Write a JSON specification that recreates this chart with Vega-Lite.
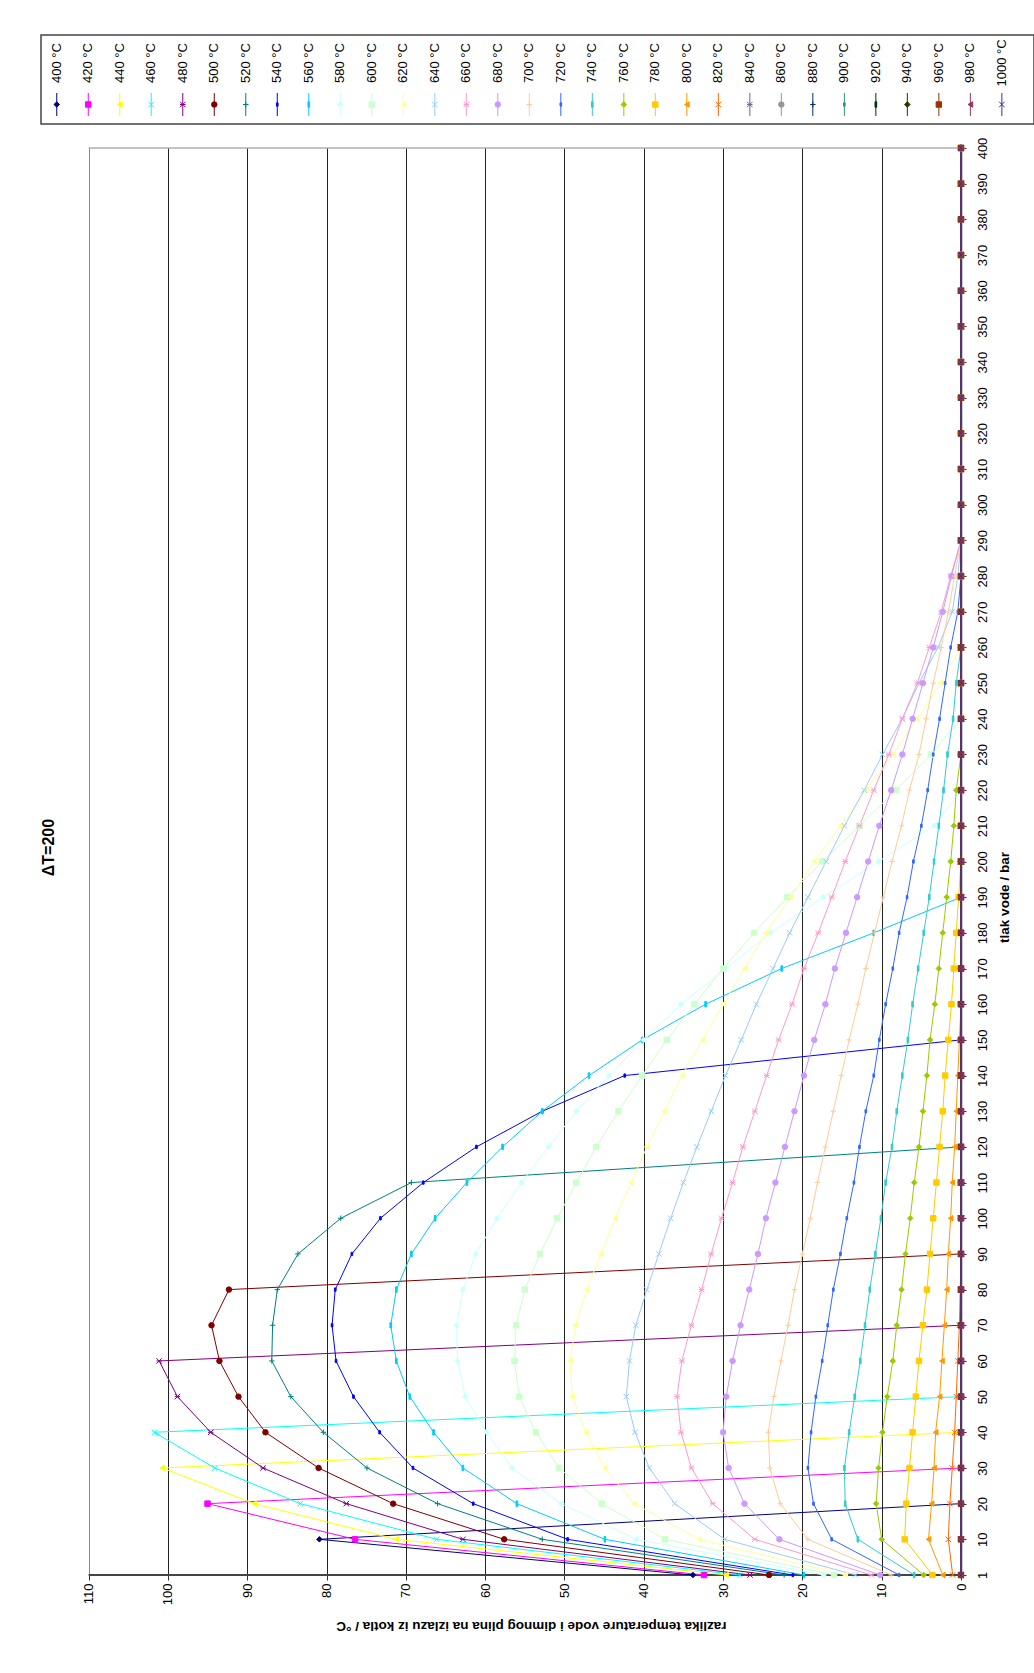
{
"$schema":"https://vega.github.io/schema/vega-lite/v6.json",
"padding":{"left":40,"top":34,"right":0,"bottom":0},
"background":"white",
"config":{"font":"Liberation Sans","view":{"stroke":null}},
"spacing":24,
"bounds":"flush",
"datasets":{
"series":[{"s":400,"label":"400 °C"},{"s":420,"label":"420 °C"},{"s":440,"label":"440 °C"},{"s":460,"label":"460 °C"},{"s":480,"label":"480 °C"},{"s":500,"label":"500 °C"},{"s":520,"label":"520 °C"},{"s":540,"label":"540 °C"},{"s":560,"label":"560 °C"},{"s":580,"label":"580 °C"},{"s":600,"label":"600 °C"},{"s":620,"label":"620 °C"},{"s":640,"label":"640 °C"},{"s":660,"label":"660 °C"},{"s":680,"label":"680 °C"},{"s":700,"label":"700 °C"},{"s":720,"label":"720 °C"},{"s":740,"label":"740 °C"},{"s":760,"label":"760 °C"},{"s":780,"label":"780 °C"},{"s":800,"label":"800 °C"},{"s":820,"label":"820 °C"},{"s":840,"label":"840 °C"},{"s":860,"label":"860 °C"},{"s":880,"label":"880 °C"},{"s":900,"label":"900 °C"},{"s":920,"label":"920 °C"},{"s":940,"label":"940 °C"},{"s":960,"label":"960 °C"},{"s":980,"label":"980 °C"},{"s":1000,"label":"1000 °C"}],
"titles":[{"t":"ΔT=200","xv":114,"pv":200}],
"pts":[
{"s":400,"p":1,"v":33.8},{"s":400,"p":10,"v":80.9},{"s":400,"p":20,"v":0},{"s":400,"p":30,"v":0},{"s":400,"p":40,"v":0},{"s":400,"p":50,"v":0},{"s":400,"p":60,"v":0},{"s":400,"p":70,"v":0},{"s":400,"p":80,"v":0},{"s":400,"p":90,"v":0},{"s":400,"p":100,"v":0},{"s":400,"p":110,"v":0},{"s":400,"p":120,"v":0},{"s":400,"p":130,"v":0},{"s":400,"p":140,"v":0},{"s":400,"p":150,"v":0},{"s":400,"p":160,"v":0},{"s":400,"p":170,"v":0},{"s":400,"p":180,"v":0},{"s":400,"p":190,"v":0},{"s":400,"p":200,"v":0},{"s":400,"p":210,"v":0},{"s":400,"p":220,"v":0},{"s":400,"p":230,"v":0},{"s":400,"p":240,"v":0},{"s":400,"p":250,"v":0},{"s":400,"p":260,"v":0},{"s":400,"p":270,"v":0},{"s":400,"p":280,"v":0},{"s":400,"p":290,"v":0},{"s":400,"p":300,"v":0},{"s":400,"p":310,"v":0},{"s":400,"p":320,"v":0},{"s":400,"p":330,"v":0},{"s":400,"p":340,"v":0},{"s":400,"p":350,"v":0},{"s":400,"p":360,"v":0},{"s":400,"p":370,"v":0},{"s":400,"p":380,"v":0},{"s":400,"p":390,"v":0},{"s":400,"p":400,"v":0},
{"s":420,"p":1,"v":32.4},{"s":420,"p":10,"v":76.4},{"s":420,"p":20,"v":95.0},{"s":420,"p":30,"v":0},{"s":420,"p":40,"v":0},{"s":420,"p":50,"v":0},{"s":420,"p":60,"v":0},{"s":420,"p":70,"v":0},{"s":420,"p":80,"v":0},{"s":420,"p":90,"v":0},{"s":420,"p":100,"v":0},{"s":420,"p":110,"v":0},{"s":420,"p":120,"v":0},{"s":420,"p":130,"v":0},{"s":420,"p":140,"v":0},{"s":420,"p":150,"v":0},{"s":420,"p":160,"v":0},{"s":420,"p":170,"v":0},{"s":420,"p":180,"v":0},{"s":420,"p":190,"v":0},{"s":420,"p":200,"v":0},{"s":420,"p":210,"v":0},{"s":420,"p":220,"v":0},{"s":420,"p":230,"v":0},{"s":420,"p":240,"v":0},{"s":420,"p":250,"v":0},{"s":420,"p":260,"v":0},{"s":420,"p":270,"v":0},{"s":420,"p":280,"v":0},{"s":420,"p":290,"v":0},{"s":420,"p":300,"v":0},{"s":420,"p":310,"v":0},{"s":420,"p":320,"v":0},{"s":420,"p":330,"v":0},{"s":420,"p":340,"v":0},{"s":420,"p":350,"v":0},{"s":420,"p":360,"v":0},{"s":420,"p":370,"v":0},{"s":420,"p":380,"v":0},{"s":420,"p":390,"v":0},{"s":420,"p":400,"v":0},
{"s":440,"p":1,"v":29.6},{"s":440,"p":10,"v":71.2},{"s":440,"p":20,"v":89.1},{"s":440,"p":30,"v":100.7},{"s":440,"p":40,"v":0},{"s":440,"p":50,"v":0},{"s":440,"p":60,"v":0},{"s":440,"p":70,"v":0},{"s":440,"p":80,"v":0},{"s":440,"p":90,"v":0},{"s":440,"p":100,"v":0},{"s":440,"p":110,"v":0},{"s":440,"p":120,"v":0},{"s":440,"p":130,"v":0},{"s":440,"p":140,"v":0},{"s":440,"p":150,"v":0},{"s":440,"p":160,"v":0},{"s":440,"p":170,"v":0},{"s":440,"p":180,"v":0},{"s":440,"p":190,"v":0},{"s":440,"p":200,"v":0},{"s":440,"p":210,"v":0},{"s":440,"p":220,"v":0},{"s":440,"p":230,"v":0},{"s":440,"p":240,"v":0},{"s":440,"p":250,"v":0},{"s":440,"p":260,"v":0},{"s":440,"p":270,"v":0},{"s":440,"p":280,"v":0},{"s":440,"p":290,"v":0},{"s":440,"p":300,"v":0},{"s":440,"p":310,"v":0},{"s":440,"p":320,"v":0},{"s":440,"p":330,"v":0},{"s":440,"p":340,"v":0},{"s":440,"p":350,"v":0},{"s":440,"p":360,"v":0},{"s":440,"p":370,"v":0},{"s":440,"p":380,"v":0},{"s":440,"p":390,"v":0},{"s":440,"p":400,"v":0},
{"s":460,"p":1,"v":27.9},{"s":460,"p":10,"v":66.1},{"s":460,"p":20,"v":83.3},{"s":460,"p":30,"v":94.1},{"s":460,"p":40,"v":101.7},{"s":460,"p":50,"v":0},{"s":460,"p":60,"v":0},{"s":460,"p":70,"v":0},{"s":460,"p":80,"v":0},{"s":460,"p":90,"v":0},{"s":460,"p":100,"v":0},{"s":460,"p":110,"v":0},{"s":460,"p":120,"v":0},{"s":460,"p":130,"v":0},{"s":460,"p":140,"v":0},{"s":460,"p":150,"v":0},{"s":460,"p":160,"v":0},{"s":460,"p":170,"v":0},{"s":460,"p":180,"v":0},{"s":460,"p":190,"v":0},{"s":460,"p":200,"v":0},{"s":460,"p":210,"v":0},{"s":460,"p":220,"v":0},{"s":460,"p":230,"v":0},{"s":460,"p":240,"v":0},{"s":460,"p":250,"v":0},{"s":460,"p":260,"v":0},{"s":460,"p":270,"v":0},{"s":460,"p":280,"v":0},{"s":460,"p":290,"v":0},{"s":460,"p":300,"v":0},{"s":460,"p":310,"v":0},{"s":460,"p":320,"v":0},{"s":460,"p":330,"v":0},{"s":460,"p":340,"v":0},{"s":460,"p":350,"v":0},{"s":460,"p":360,"v":0},{"s":460,"p":370,"v":0},{"s":460,"p":380,"v":0},{"s":460,"p":390,"v":0},{"s":460,"p":400,"v":0},
{"s":480,"p":1,"v":26.6},{"s":480,"p":10,"v":62.8},{"s":480,"p":20,"v":77.5},{"s":480,"p":30,"v":88.0},{"s":480,"p":40,"v":94.6},{"s":480,"p":50,"v":98.8},{"s":480,"p":60,"v":101.1},{"s":480,"p":70,"v":0},{"s":480,"p":80,"v":0},{"s":480,"p":90,"v":0},{"s":480,"p":100,"v":0},{"s":480,"p":110,"v":0},{"s":480,"p":120,"v":0},{"s":480,"p":130,"v":0},{"s":480,"p":140,"v":0},{"s":480,"p":150,"v":0},{"s":480,"p":160,"v":0},{"s":480,"p":170,"v":0},{"s":480,"p":180,"v":0},{"s":480,"p":190,"v":0},{"s":480,"p":200,"v":0},{"s":480,"p":210,"v":0},{"s":480,"p":220,"v":0},{"s":480,"p":230,"v":0},{"s":480,"p":240,"v":0},{"s":480,"p":250,"v":0},{"s":480,"p":260,"v":0},{"s":480,"p":270,"v":0},{"s":480,"p":280,"v":0},{"s":480,"p":290,"v":0},{"s":480,"p":300,"v":0},{"s":480,"p":310,"v":0},{"s":480,"p":320,"v":0},{"s":480,"p":330,"v":0},{"s":480,"p":340,"v":0},{"s":480,"p":350,"v":0},{"s":480,"p":360,"v":0},{"s":480,"p":370,"v":0},{"s":480,"p":380,"v":0},{"s":480,"p":390,"v":0},{"s":480,"p":400,"v":0},
{"s":500,"p":1,"v":24.2},{"s":500,"p":10,"v":57.6},{"s":500,"p":20,"v":71.6},{"s":500,"p":30,"v":81.0},{"s":500,"p":40,"v":87.7},{"s":500,"p":50,"v":91.1},{"s":500,"p":60,"v":93.5},{"s":500,"p":70,"v":94.5},{"s":500,"p":80,"v":92.3},{"s":500,"p":90,"v":0},{"s":500,"p":100,"v":0},{"s":500,"p":110,"v":0},{"s":500,"p":120,"v":0},{"s":500,"p":130,"v":0},{"s":500,"p":140,"v":0},{"s":500,"p":150,"v":0},{"s":500,"p":160,"v":0},{"s":500,"p":170,"v":0},{"s":500,"p":180,"v":0},{"s":500,"p":190,"v":0},{"s":500,"p":200,"v":0},{"s":500,"p":210,"v":0},{"s":500,"p":220,"v":0},{"s":500,"p":230,"v":0},{"s":500,"p":240,"v":0},{"s":500,"p":250,"v":0},{"s":500,"p":260,"v":0},{"s":500,"p":270,"v":0},{"s":500,"p":280,"v":0},{"s":500,"p":290,"v":0},{"s":500,"p":300,"v":0},{"s":500,"p":310,"v":0},{"s":500,"p":320,"v":0},{"s":500,"p":330,"v":0},{"s":500,"p":340,"v":0},{"s":500,"p":350,"v":0},{"s":500,"p":360,"v":0},{"s":500,"p":370,"v":0},{"s":500,"p":380,"v":0},{"s":500,"p":390,"v":0},{"s":500,"p":400,"v":0},
{"s":520,"p":1,"v":22.3},{"s":520,"p":10,"v":52.8},{"s":520,"p":20,"v":66.0},{"s":520,"p":30,"v":74.9},{"s":520,"p":40,"v":80.4},{"s":520,"p":50,"v":84.5},{"s":520,"p":60,"v":86.9},{"s":520,"p":70,"v":86.8},{"s":520,"p":80,"v":86.2},{"s":520,"p":90,"v":83.6},{"s":520,"p":100,"v":78.2},{"s":520,"p":110,"v":69.3},{"s":520,"p":120,"v":0},{"s":520,"p":130,"v":0},{"s":520,"p":140,"v":0},{"s":520,"p":150,"v":0},{"s":520,"p":160,"v":0},{"s":520,"p":170,"v":0},{"s":520,"p":180,"v":0},{"s":520,"p":190,"v":0},{"s":520,"p":200,"v":0},{"s":520,"p":210,"v":0},{"s":520,"p":220,"v":0},{"s":520,"p":230,"v":0},{"s":520,"p":240,"v":0},{"s":520,"p":250,"v":0},{"s":520,"p":260,"v":0},{"s":520,"p":270,"v":0},{"s":520,"p":280,"v":0},{"s":520,"p":290,"v":0},{"s":520,"p":300,"v":0},{"s":520,"p":310,"v":0},{"s":520,"p":320,"v":0},{"s":520,"p":330,"v":0},{"s":520,"p":340,"v":0},{"s":520,"p":350,"v":0},{"s":520,"p":360,"v":0},{"s":520,"p":370,"v":0},{"s":520,"p":380,"v":0},{"s":520,"p":390,"v":0},{"s":520,"p":400,"v":0},
{"s":540,"p":1,"v":21.2},{"s":540,"p":10,"v":49.6},{"s":540,"p":20,"v":61.5},{"s":540,"p":30,"v":69.1},{"s":540,"p":40,"v":73.3},{"s":540,"p":50,"v":76.6},{"s":540,"p":60,"v":78.8},{"s":540,"p":70,"v":79.3},{"s":540,"p":80,"v":78.9},{"s":540,"p":90,"v":76.8},{"s":540,"p":100,"v":73.2},{"s":540,"p":110,"v":67.8},{"s":540,"p":120,"v":61.1},{"s":540,"p":130,"v":52.8},{"s":540,"p":140,"v":42.4},{"s":540,"p":150,"v":0},{"s":540,"p":160,"v":0},{"s":540,"p":170,"v":0},{"s":540,"p":180,"v":0},{"s":540,"p":190,"v":0},{"s":540,"p":200,"v":0},{"s":540,"p":210,"v":0},{"s":540,"p":220,"v":0},{"s":540,"p":230,"v":0},{"s":540,"p":240,"v":0},{"s":540,"p":250,"v":0},{"s":540,"p":260,"v":0},{"s":540,"p":270,"v":0},{"s":540,"p":280,"v":0},{"s":540,"p":290,"v":0},{"s":540,"p":300,"v":0},{"s":540,"p":310,"v":0},{"s":540,"p":320,"v":0},{"s":540,"p":330,"v":0},{"s":540,"p":340,"v":0},{"s":540,"p":350,"v":0},{"s":540,"p":360,"v":0},{"s":540,"p":370,"v":0},{"s":540,"p":380,"v":0},{"s":540,"p":390,"v":0},{"s":540,"p":400,"v":0},
{"s":560,"p":1,"v":19.8},{"s":560,"p":10,"v":44.9},{"s":560,"p":20,"v":56.0},{"s":560,"p":30,"v":62.8},{"s":560,"p":40,"v":66.5},{"s":560,"p":50,"v":69.5},{"s":560,"p":60,"v":71.2},{"s":560,"p":70,"v":71.9},{"s":560,"p":80,"v":71.2},{"s":560,"p":90,"v":69.3},{"s":560,"p":100,"v":66.3},{"s":560,"p":110,"v":62.3},{"s":560,"p":120,"v":57.8},{"s":560,"p":130,"v":52.8},{"s":560,"p":140,"v":46.9},{"s":560,"p":150,"v":40.2},{"s":560,"p":160,"v":32.2},{"s":560,"p":170,"v":22.6},{"s":560,"p":180,"v":11.0},{"s":560,"p":190,"v":0},{"s":560,"p":200,"v":0},{"s":560,"p":210,"v":0},{"s":560,"p":220,"v":0},{"s":560,"p":230,"v":0},{"s":560,"p":240,"v":0},{"s":560,"p":250,"v":0},{"s":560,"p":260,"v":0},{"s":560,"p":270,"v":0},{"s":560,"p":280,"v":0},{"s":560,"p":290,"v":0},{"s":560,"p":300,"v":0},{"s":560,"p":310,"v":0},{"s":560,"p":320,"v":0},{"s":560,"p":330,"v":0},{"s":560,"p":340,"v":0},{"s":560,"p":350,"v":0},{"s":560,"p":360,"v":0},{"s":560,"p":370,"v":0},{"s":560,"p":380,"v":0},{"s":560,"p":390,"v":0},{"s":560,"p":400,"v":0},
{"s":580,"p":1,"v":17.3},{"s":580,"p":10,"v":40.9},{"s":580,"p":20,"v":50.4},{"s":580,"p":30,"v":56.6},{"s":580,"p":40,"v":59.8},{"s":580,"p":50,"v":62.5},{"s":580,"p":60,"v":63.5},{"s":580,"p":70,"v":63.6},{"s":580,"p":80,"v":62.8},{"s":580,"p":90,"v":61.2},{"s":580,"p":100,"v":58.5},{"s":580,"p":110,"v":55.4},{"s":580,"p":120,"v":52.0},{"s":580,"p":130,"v":48.5},{"s":580,"p":140,"v":44.4},{"s":580,"p":150,"v":40.0},{"s":580,"p":160,"v":35.3},{"s":580,"p":170,"v":29.6},{"s":580,"p":180,"v":24.0},{"s":580,"p":190,"v":17.4},{"s":580,"p":200,"v":10.4},{"s":580,"p":210,"v":3.4},{"s":580,"p":220,"v":0},{"s":580,"p":230,"v":0},{"s":580,"p":240,"v":0},{"s":580,"p":250,"v":0},{"s":580,"p":260,"v":0},{"s":580,"p":270,"v":0},{"s":580,"p":280,"v":0},{"s":580,"p":290,"v":0},{"s":580,"p":300,"v":0},{"s":580,"p":310,"v":0},{"s":580,"p":320,"v":0},{"s":580,"p":330,"v":0},{"s":580,"p":340,"v":0},{"s":580,"p":350,"v":0},{"s":580,"p":360,"v":0},{"s":580,"p":370,"v":0},{"s":580,"p":380,"v":0},{"s":580,"p":390,"v":0},{"s":580,"p":400,"v":0},
{"s":600,"p":1,"v":16.0},{"s":600,"p":10,"v":37.3},{"s":600,"p":20,"v":45.3},{"s":600,"p":30,"v":50.7},{"s":600,"p":40,"v":53.6},{"s":600,"p":50,"v":55.7},{"s":600,"p":60,"v":56.3},{"s":600,"p":70,"v":56.1},{"s":600,"p":80,"v":55.0},{"s":600,"p":90,"v":53.1},{"s":600,"p":100,"v":50.9},{"s":600,"p":110,"v":48.5},{"s":600,"p":120,"v":46.0},{"s":600,"p":130,"v":43.2},{"s":600,"p":140,"v":40.2},{"s":600,"p":150,"v":37.1},{"s":600,"p":160,"v":33.6},{"s":600,"p":170,"v":30.0},{"s":600,"p":180,"v":26.1},{"s":600,"p":190,"v":21.9},{"s":600,"p":200,"v":17.5},{"s":600,"p":210,"v":12.8},{"s":600,"p":220,"v":8.2},{"s":600,"p":230,"v":3.8},{"s":600,"p":240,"v":0},{"s":600,"p":250,"v":0},{"s":600,"p":260,"v":0},{"s":600,"p":270,"v":0},{"s":600,"p":280,"v":0},{"s":600,"p":290,"v":0},{"s":600,"p":300,"v":0},{"s":600,"p":310,"v":0},{"s":600,"p":320,"v":0},{"s":600,"p":330,"v":0},{"s":600,"p":340,"v":0},{"s":600,"p":350,"v":0},{"s":600,"p":360,"v":0},{"s":600,"p":370,"v":0},{"s":600,"p":380,"v":0},{"s":600,"p":390,"v":0},{"s":600,"p":400,"v":0},
{"s":620,"p":1,"v":14.6},{"s":620,"p":10,"v":33.0},{"s":620,"p":20,"v":41.2},{"s":620,"p":30,"v":44.9},{"s":620,"p":40,"v":47.3},{"s":620,"p":50,"v":49.0},{"s":620,"p":60,"v":49.3},{"s":620,"p":70,"v":48.6},{"s":620,"p":80,"v":47.2},{"s":620,"p":90,"v":45.4},{"s":620,"p":100,"v":43.6},{"s":620,"p":110,"v":41.6},{"s":620,"p":120,"v":39.6},{"s":620,"p":130,"v":37.4},{"s":620,"p":140,"v":35.2},{"s":620,"p":150,"v":32.6},{"s":620,"p":160,"v":30.0},{"s":620,"p":170,"v":27.3},{"s":620,"p":180,"v":24.6},{"s":620,"p":190,"v":21.5},{"s":620,"p":200,"v":18.5},{"s":620,"p":210,"v":15.2},{"s":620,"p":220,"v":12.0},{"s":620,"p":230,"v":8.6},{"s":620,"p":240,"v":5.5},{"s":620,"p":250,"v":2.6},{"s":620,"p":260,"v":0},{"s":620,"p":270,"v":0},{"s":620,"p":280,"v":0},{"s":620,"p":290,"v":0},{"s":620,"p":300,"v":0},{"s":620,"p":310,"v":0},{"s":620,"p":320,"v":0},{"s":620,"p":330,"v":0},{"s":620,"p":340,"v":0},{"s":620,"p":350,"v":0},{"s":620,"p":360,"v":0},{"s":620,"p":370,"v":0},{"s":620,"p":380,"v":0},{"s":620,"p":390,"v":0},{"s":620,"p":400,"v":0},
{"s":640,"p":1,"v":13.3},{"s":640,"p":10,"v":29.8},{"s":640,"p":20,"v":36.1},{"s":640,"p":30,"v":39.3},{"s":640,"p":40,"v":41.1},{"s":640,"p":50,"v":42.2},{"s":640,"p":60,"v":41.8},{"s":640,"p":70,"v":41.0},{"s":640,"p":80,"v":39.6},{"s":640,"p":90,"v":38.1},{"s":640,"p":100,"v":36.6},{"s":640,"p":110,"v":35.0},{"s":640,"p":120,"v":33.3},{"s":640,"p":130,"v":31.5},{"s":640,"p":140,"v":29.7},{"s":640,"p":150,"v":27.7},{"s":640,"p":160,"v":25.8},{"s":640,"p":170,"v":23.7},{"s":640,"p":180,"v":21.6},{"s":640,"p":190,"v":19.3},{"s":640,"p":200,"v":17.0},{"s":640,"p":210,"v":14.7},{"s":640,"p":220,"v":12.2},{"s":640,"p":230,"v":9.9},{"s":640,"p":240,"v":7.4},{"s":640,"p":250,"v":5.3},{"s":640,"p":260,"v":2.9},{"s":640,"p":270,"v":1.1},{"s":640,"p":280,"v":0.4},{"s":640,"p":290,"v":0},{"s":640,"p":300,"v":0},{"s":640,"p":310,"v":0},{"s":640,"p":320,"v":0},{"s":640,"p":330,"v":0},{"s":640,"p":340,"v":0},{"s":640,"p":350,"v":0},{"s":640,"p":360,"v":0},{"s":640,"p":370,"v":0},{"s":640,"p":380,"v":0},{"s":640,"p":390,"v":0},{"s":640,"p":400,"v":0},
{"s":660,"p":1,"v":11.3},{"s":660,"p":10,"v":26.0},{"s":660,"p":20,"v":31.3},{"s":660,"p":30,"v":34.0},{"s":660,"p":40,"v":35.3},{"s":660,"p":50,"v":35.8},{"s":660,"p":60,"v":35.2},{"s":660,"p":70,"v":34.0},{"s":660,"p":80,"v":32.7},{"s":660,"p":90,"v":31.5},{"s":660,"p":100,"v":30.2},{"s":660,"p":110,"v":28.8},{"s":660,"p":120,"v":27.5},{"s":660,"p":130,"v":26.0},{"s":660,"p":140,"v":24.5},{"s":660,"p":150,"v":23.0},{"s":660,"p":160,"v":21.3},{"s":660,"p":170,"v":19.8},{"s":660,"p":180,"v":18.0},{"s":660,"p":190,"v":16.3},{"s":660,"p":200,"v":14.6},{"s":660,"p":210,"v":12.8},{"s":660,"p":220,"v":11.0},{"s":660,"p":230,"v":9.1},{"s":660,"p":240,"v":7.4},{"s":660,"p":250,"v":5.5},{"s":660,"p":260,"v":4.0},{"s":660,"p":270,"v":2.5},{"s":660,"p":280,"v":1.3},{"s":660,"p":290,"v":0},{"s":660,"p":300,"v":0},{"s":660,"p":310,"v":0},{"s":660,"p":320,"v":0},{"s":660,"p":330,"v":0},{"s":660,"p":340,"v":0},{"s":660,"p":350,"v":0},{"s":660,"p":360,"v":0},{"s":660,"p":370,"v":0},{"s":660,"p":380,"v":0},{"s":660,"p":390,"v":0},{"s":660,"p":400,"v":0},
{"s":680,"p":1,"v":10.2},{"s":680,"p":10,"v":22.9},{"s":680,"p":20,"v":27.3},{"s":680,"p":30,"v":29.3},{"s":680,"p":40,"v":30.0},{"s":680,"p":50,"v":29.6},{"s":680,"p":60,"v":28.8},{"s":680,"p":70,"v":27.8},{"s":680,"p":80,"v":26.7},{"s":680,"p":90,"v":25.6},{"s":680,"p":100,"v":24.6},{"s":680,"p":110,"v":23.4},{"s":680,"p":120,"v":22.2},{"s":680,"p":130,"v":21.0},{"s":680,"p":140,"v":19.8},{"s":680,"p":150,"v":18.5},{"s":680,"p":160,"v":17.1},{"s":680,"p":170,"v":15.9},{"s":680,"p":180,"v":14.5},{"s":680,"p":190,"v":13.1},{"s":680,"p":200,"v":11.7},{"s":680,"p":210,"v":10.3},{"s":680,"p":220,"v":8.8},{"s":680,"p":230,"v":7.4},{"s":680,"p":240,"v":6.1},{"s":680,"p":250,"v":4.8},{"s":680,"p":260,"v":3.5},{"s":680,"p":270,"v":2.3},{"s":680,"p":280,"v":1.2},{"s":680,"p":290,"v":0},{"s":680,"p":300,"v":0},{"s":680,"p":310,"v":0},{"s":680,"p":320,"v":0},{"s":680,"p":330,"v":0},{"s":680,"p":340,"v":0},{"s":680,"p":350,"v":0},{"s":680,"p":360,"v":0},{"s":680,"p":370,"v":0},{"s":680,"p":380,"v":0},{"s":680,"p":390,"v":0},{"s":680,"p":400,"v":0},
{"s":700,"p":1,"v":8.8},{"s":700,"p":10,"v":19.3},{"s":700,"p":20,"v":22.8},{"s":700,"p":30,"v":24.1},{"s":700,"p":40,"v":24.3},{"s":700,"p":50,"v":23.6},{"s":700,"p":60,"v":22.7},{"s":700,"p":70,"v":21.8},{"s":700,"p":80,"v":21.0},{"s":700,"p":90,"v":20.0},{"s":700,"p":100,"v":19.0},{"s":700,"p":110,"v":18.1},{"s":700,"p":120,"v":17.1},{"s":700,"p":130,"v":16.1},{"s":700,"p":140,"v":15.1},{"s":700,"p":150,"v":14.1},{"s":700,"p":160,"v":13.0},{"s":700,"p":170,"v":12.0},{"s":700,"p":180,"v":10.9},{"s":700,"p":190,"v":9.8},{"s":700,"p":200,"v":8.7},{"s":700,"p":210,"v":7.5},{"s":700,"p":220,"v":6.5},{"s":700,"p":230,"v":5.3},{"s":700,"p":240,"v":4.4},{"s":700,"p":250,"v":3.5},{"s":700,"p":260,"v":2.5},{"s":700,"p":270,"v":1.6},{"s":700,"p":280,"v":0.8},{"s":700,"p":290,"v":0},{"s":700,"p":300,"v":0},{"s":700,"p":310,"v":0},{"s":700,"p":320,"v":0},{"s":700,"p":330,"v":0},{"s":700,"p":340,"v":0},{"s":700,"p":350,"v":0},{"s":700,"p":360,"v":0},{"s":700,"p":370,"v":0},{"s":700,"p":380,"v":0},{"s":700,"p":390,"v":0},{"s":700,"p":400,"v":0},
{"s":720,"p":1,"v":7.8},{"s":720,"p":10,"v":16.3},{"s":720,"p":20,"v":18.6},{"s":720,"p":30,"v":19.3},{"s":720,"p":40,"v":18.9},{"s":720,"p":50,"v":18.3},{"s":720,"p":60,"v":17.5},{"s":720,"p":70,"v":16.8},{"s":720,"p":80,"v":16.1},{"s":720,"p":90,"v":15.2},{"s":720,"p":100,"v":14.4},{"s":720,"p":110,"v":13.5},{"s":720,"p":120,"v":12.8},{"s":720,"p":130,"v":12.0},{"s":720,"p":140,"v":11.0},{"s":720,"p":150,"v":10.3},{"s":720,"p":160,"v":9.5},{"s":720,"p":170,"v":8.6},{"s":720,"p":180,"v":7.8},{"s":720,"p":190,"v":6.8},{"s":720,"p":200,"v":6.0},{"s":720,"p":210,"v":5.0},{"s":720,"p":220,"v":4.2},{"s":720,"p":230,"v":3.5},{"s":720,"p":240,"v":2.7},{"s":720,"p":250,"v":2.0},{"s":720,"p":260,"v":1.3},{"s":720,"p":270,"v":0.4},{"s":720,"p":280,"v":0},{"s":720,"p":290,"v":0},{"s":720,"p":300,"v":0},{"s":720,"p":310,"v":0},{"s":720,"p":320,"v":0},{"s":720,"p":330,"v":0},{"s":720,"p":340,"v":0},{"s":720,"p":350,"v":0},{"s":720,"p":360,"v":0},{"s":720,"p":370,"v":0},{"s":720,"p":380,"v":0},{"s":720,"p":390,"v":0},{"s":720,"p":400,"v":0},
{"s":740,"p":1,"v":5.9},{"s":740,"p":10,"v":13.0},{"s":740,"p":20,"v":14.6},{"s":740,"p":30,"v":14.7},{"s":740,"p":40,"v":14.1},{"s":740,"p":50,"v":13.4},{"s":740,"p":60,"v":12.7},{"s":740,"p":70,"v":12.1},{"s":740,"p":80,"v":11.5},{"s":740,"p":90,"v":10.8},{"s":740,"p":100,"v":10.1},{"s":740,"p":110,"v":9.5},{"s":740,"p":120,"v":8.7},{"s":740,"p":130,"v":8.1},{"s":740,"p":140,"v":7.4},{"s":740,"p":150,"v":6.7},{"s":740,"p":160,"v":6.1},{"s":740,"p":170,"v":5.4},{"s":740,"p":180,"v":4.7},{"s":740,"p":190,"v":4.0},{"s":740,"p":200,"v":3.4},{"s":740,"p":210,"v":2.8},{"s":740,"p":220,"v":2.2},{"s":740,"p":230,"v":1.7},{"s":740,"p":240,"v":1.0},{"s":740,"p":250,"v":0.6},{"s":740,"p":260,"v":0},{"s":740,"p":270,"v":0},{"s":740,"p":280,"v":0},{"s":740,"p":290,"v":0},{"s":740,"p":300,"v":0},{"s":740,"p":310,"v":0},{"s":740,"p":320,"v":0},{"s":740,"p":330,"v":0},{"s":740,"p":340,"v":0},{"s":740,"p":350,"v":0},{"s":740,"p":360,"v":0},{"s":740,"p":370,"v":0},{"s":740,"p":380,"v":0},{"s":740,"p":390,"v":0},{"s":740,"p":400,"v":0},
{"s":760,"p":1,"v":4.7},{"s":760,"p":10,"v":10.0},{"s":760,"p":20,"v":10.7},{"s":760,"p":30,"v":10.4},{"s":760,"p":40,"v":9.9},{"s":760,"p":50,"v":9.3},{"s":760,"p":60,"v":8.6},{"s":760,"p":70,"v":8.1},{"s":760,"p":80,"v":7.5},{"s":760,"p":90,"v":7.0},{"s":760,"p":100,"v":6.4},{"s":760,"p":110,"v":5.9},{"s":760,"p":120,"v":5.3},{"s":760,"p":130,"v":4.8},{"s":760,"p":140,"v":4.3},{"s":760,"p":150,"v":3.9},{"s":760,"p":160,"v":3.3},{"s":760,"p":170,"v":2.8},{"s":760,"p":180,"v":2.3},{"s":760,"p":190,"v":1.8},{"s":760,"p":200,"v":1.3},{"s":760,"p":210,"v":0.9},{"s":760,"p":220,"v":0.6},{"s":760,"p":230,"v":0},{"s":760,"p":240,"v":0},{"s":760,"p":250,"v":0},{"s":760,"p":260,"v":0},{"s":760,"p":270,"v":0},{"s":760,"p":280,"v":0},{"s":760,"p":290,"v":0},{"s":760,"p":300,"v":0},{"s":760,"p":310,"v":0},{"s":760,"p":320,"v":0},{"s":760,"p":330,"v":0},{"s":760,"p":340,"v":0},{"s":760,"p":350,"v":0},{"s":760,"p":360,"v":0},{"s":760,"p":370,"v":0},{"s":760,"p":380,"v":0},{"s":760,"p":390,"v":0},{"s":760,"p":400,"v":0},
{"s":780,"p":1,"v":3.6},{"s":780,"p":10,"v":7.1},{"s":780,"p":20,"v":6.9},{"s":780,"p":30,"v":6.5},{"s":780,"p":40,"v":6.1},{"s":780,"p":50,"v":5.7},{"s":780,"p":60,"v":5.3},{"s":780,"p":70,"v":4.8},{"s":780,"p":80,"v":4.3},{"s":780,"p":90,"v":3.9},{"s":780,"p":100,"v":3.5},{"s":780,"p":110,"v":3.1},{"s":780,"p":120,"v":2.7},{"s":780,"p":130,"v":2.3},{"s":780,"p":140,"v":2.0},{"s":780,"p":150,"v":1.6},{"s":780,"p":160,"v":1.2},{"s":780,"p":170,"v":0.9},{"s":780,"p":180,"v":0.6},{"s":780,"p":190,"v":0.3},{"s":780,"p":200,"v":0},{"s":780,"p":210,"v":0},{"s":780,"p":220,"v":0},{"s":780,"p":230,"v":0},{"s":780,"p":240,"v":0},{"s":780,"p":250,"v":0},{"s":780,"p":260,"v":0},{"s":780,"p":270,"v":0},{"s":780,"p":280,"v":0},{"s":780,"p":290,"v":0},{"s":780,"p":300,"v":0},{"s":780,"p":310,"v":0},{"s":780,"p":320,"v":0},{"s":780,"p":330,"v":0},{"s":780,"p":340,"v":0},{"s":780,"p":350,"v":0},{"s":780,"p":360,"v":0},{"s":780,"p":370,"v":0},{"s":780,"p":380,"v":0},{"s":780,"p":390,"v":0},{"s":780,"p":400,"v":0},
{"s":800,"p":1,"v":2.3},{"s":800,"p":10,"v":4.1},{"s":800,"p":20,"v":3.7},{"s":800,"p":30,"v":3.4},{"s":800,"p":40,"v":3.2},{"s":800,"p":50,"v":2.7},{"s":800,"p":60,"v":2.4},{"s":800,"p":70,"v":2.1},{"s":800,"p":80,"v":1.8},{"s":800,"p":90,"v":1.6},{"s":800,"p":100,"v":1.3},{"s":800,"p":110,"v":1.1},{"s":800,"p":120,"v":0.8},{"s":800,"p":130,"v":0.6},{"s":800,"p":140,"v":0.4},{"s":800,"p":150,"v":0.2},{"s":800,"p":160,"v":0},{"s":800,"p":170,"v":0},{"s":800,"p":180,"v":0},{"s":800,"p":190,"v":0},{"s":800,"p":200,"v":0},{"s":800,"p":210,"v":0},{"s":800,"p":220,"v":0},{"s":800,"p":230,"v":0},{"s":800,"p":240,"v":0},{"s":800,"p":250,"v":0},{"s":800,"p":260,"v":0},{"s":800,"p":270,"v":0},{"s":800,"p":280,"v":0},{"s":800,"p":290,"v":0},{"s":800,"p":300,"v":0},{"s":800,"p":310,"v":0},{"s":800,"p":320,"v":0},{"s":800,"p":330,"v":0},{"s":800,"p":340,"v":0},{"s":800,"p":350,"v":0},{"s":800,"p":360,"v":0},{"s":800,"p":370,"v":0},{"s":800,"p":380,"v":0},{"s":800,"p":390,"v":0},{"s":800,"p":400,"v":0},
{"s":820,"p":1,"v":1.05},{"s":820,"p":10,"v":1.6},{"s":820,"p":20,"v":1.4},{"s":820,"p":30,"v":1.1},{"s":820,"p":40,"v":0.8},{"s":820,"p":50,"v":0.6},{"s":820,"p":60,"v":0.4},{"s":820,"p":70,"v":0.2},{"s":820,"p":80,"v":0.1},{"s":820,"p":90,"v":0},{"s":820,"p":100,"v":0},{"s":820,"p":110,"v":0},{"s":820,"p":120,"v":0},{"s":820,"p":130,"v":0},{"s":820,"p":140,"v":0},{"s":820,"p":150,"v":0},{"s":820,"p":160,"v":0},{"s":820,"p":170,"v":0},{"s":820,"p":180,"v":0},{"s":820,"p":190,"v":0},{"s":820,"p":200,"v":0},{"s":820,"p":210,"v":0},{"s":820,"p":220,"v":0},{"s":820,"p":230,"v":0},{"s":820,"p":240,"v":0},{"s":820,"p":250,"v":0},{"s":820,"p":260,"v":0},{"s":820,"p":270,"v":0},{"s":820,"p":280,"v":0},{"s":820,"p":290,"v":0},{"s":820,"p":300,"v":0},{"s":820,"p":310,"v":0},{"s":820,"p":320,"v":0},{"s":820,"p":330,"v":0},{"s":820,"p":340,"v":0},{"s":820,"p":350,"v":0},{"s":820,"p":360,"v":0},{"s":820,"p":370,"v":0},{"s":820,"p":380,"v":0},{"s":820,"p":390,"v":0},{"s":820,"p":400,"v":0},
{"s":840,"p":1,"v":0},{"s":840,"p":10,"v":0},{"s":840,"p":20,"v":0},{"s":840,"p":30,"v":0},{"s":840,"p":40,"v":0},{"s":840,"p":50,"v":0},{"s":840,"p":60,"v":0},{"s":840,"p":70,"v":0},{"s":840,"p":80,"v":0},{"s":840,"p":90,"v":0},{"s":840,"p":100,"v":0},{"s":840,"p":110,"v":0},{"s":840,"p":120,"v":0},{"s":840,"p":130,"v":0},{"s":840,"p":140,"v":0},{"s":840,"p":150,"v":0},{"s":840,"p":160,"v":0},{"s":840,"p":170,"v":0},{"s":840,"p":180,"v":0},{"s":840,"p":190,"v":0},{"s":840,"p":200,"v":0},{"s":840,"p":210,"v":0},{"s":840,"p":220,"v":0},{"s":840,"p":230,"v":0},{"s":840,"p":240,"v":0},{"s":840,"p":250,"v":0},{"s":840,"p":260,"v":0},{"s":840,"p":270,"v":0},{"s":840,"p":280,"v":0},{"s":840,"p":290,"v":0},{"s":840,"p":300,"v":0},{"s":840,"p":310,"v":0},{"s":840,"p":320,"v":0},{"s":840,"p":330,"v":0},{"s":840,"p":340,"v":0},{"s":840,"p":350,"v":0},{"s":840,"p":360,"v":0},{"s":840,"p":370,"v":0},{"s":840,"p":380,"v":0},{"s":840,"p":390,"v":0},{"s":840,"p":400,"v":0},
{"s":860,"p":1,"v":0},{"s":860,"p":10,"v":0},{"s":860,"p":20,"v":0},{"s":860,"p":30,"v":0},{"s":860,"p":40,"v":0},{"s":860,"p":50,"v":0},{"s":860,"p":60,"v":0},{"s":860,"p":70,"v":0},{"s":860,"p":80,"v":0},{"s":860,"p":90,"v":0},{"s":860,"p":100,"v":0},{"s":860,"p":110,"v":0},{"s":860,"p":120,"v":0},{"s":860,"p":130,"v":0},{"s":860,"p":140,"v":0},{"s":860,"p":150,"v":0},{"s":860,"p":160,"v":0},{"s":860,"p":170,"v":0},{"s":860,"p":180,"v":0},{"s":860,"p":190,"v":0},{"s":860,"p":200,"v":0},{"s":860,"p":210,"v":0},{"s":860,"p":220,"v":0},{"s":860,"p":230,"v":0},{"s":860,"p":240,"v":0},{"s":860,"p":250,"v":0},{"s":860,"p":260,"v":0},{"s":860,"p":270,"v":0},{"s":860,"p":280,"v":0},{"s":860,"p":290,"v":0},{"s":860,"p":300,"v":0},{"s":860,"p":310,"v":0},{"s":860,"p":320,"v":0},{"s":860,"p":330,"v":0},{"s":860,"p":340,"v":0},{"s":860,"p":350,"v":0},{"s":860,"p":360,"v":0},{"s":860,"p":370,"v":0},{"s":860,"p":380,"v":0},{"s":860,"p":390,"v":0},{"s":860,"p":400,"v":0},
{"s":880,"p":1,"v":0},{"s":880,"p":10,"v":0},{"s":880,"p":20,"v":0},{"s":880,"p":30,"v":0},{"s":880,"p":40,"v":0},{"s":880,"p":50,"v":0},{"s":880,"p":60,"v":0},{"s":880,"p":70,"v":0},{"s":880,"p":80,"v":0},{"s":880,"p":90,"v":0},{"s":880,"p":100,"v":0},{"s":880,"p":110,"v":0},{"s":880,"p":120,"v":0},{"s":880,"p":130,"v":0},{"s":880,"p":140,"v":0},{"s":880,"p":150,"v":0},{"s":880,"p":160,"v":0},{"s":880,"p":170,"v":0},{"s":880,"p":180,"v":0},{"s":880,"p":190,"v":0},{"s":880,"p":200,"v":0},{"s":880,"p":210,"v":0},{"s":880,"p":220,"v":0},{"s":880,"p":230,"v":0},{"s":880,"p":240,"v":0},{"s":880,"p":250,"v":0},{"s":880,"p":260,"v":0},{"s":880,"p":270,"v":0},{"s":880,"p":280,"v":0},{"s":880,"p":290,"v":0},{"s":880,"p":300,"v":0},{"s":880,"p":310,"v":0},{"s":880,"p":320,"v":0},{"s":880,"p":330,"v":0},{"s":880,"p":340,"v":0},{"s":880,"p":350,"v":0},{"s":880,"p":360,"v":0},{"s":880,"p":370,"v":0},{"s":880,"p":380,"v":0},{"s":880,"p":390,"v":0},{"s":880,"p":400,"v":0},
{"s":900,"p":1,"v":0},{"s":900,"p":10,"v":0},{"s":900,"p":20,"v":0},{"s":900,"p":30,"v":0},{"s":900,"p":40,"v":0},{"s":900,"p":50,"v":0},{"s":900,"p":60,"v":0},{"s":900,"p":70,"v":0},{"s":900,"p":80,"v":0},{"s":900,"p":90,"v":0},{"s":900,"p":100,"v":0},{"s":900,"p":110,"v":0},{"s":900,"p":120,"v":0},{"s":900,"p":130,"v":0},{"s":900,"p":140,"v":0},{"s":900,"p":150,"v":0},{"s":900,"p":160,"v":0},{"s":900,"p":170,"v":0},{"s":900,"p":180,"v":0},{"s":900,"p":190,"v":0},{"s":900,"p":200,"v":0},{"s":900,"p":210,"v":0},{"s":900,"p":220,"v":0},{"s":900,"p":230,"v":0},{"s":900,"p":240,"v":0},{"s":900,"p":250,"v":0},{"s":900,"p":260,"v":0},{"s":900,"p":270,"v":0},{"s":900,"p":280,"v":0},{"s":900,"p":290,"v":0},{"s":900,"p":300,"v":0},{"s":900,"p":310,"v":0},{"s":900,"p":320,"v":0},{"s":900,"p":330,"v":0},{"s":900,"p":340,"v":0},{"s":900,"p":350,"v":0},{"s":900,"p":360,"v":0},{"s":900,"p":370,"v":0},{"s":900,"p":380,"v":0},{"s":900,"p":390,"v":0},{"s":900,"p":400,"v":0},
{"s":920,"p":1,"v":0},{"s":920,"p":10,"v":0},{"s":920,"p":20,"v":0},{"s":920,"p":30,"v":0},{"s":920,"p":40,"v":0},{"s":920,"p":50,"v":0},{"s":920,"p":60,"v":0},{"s":920,"p":70,"v":0},{"s":920,"p":80,"v":0},{"s":920,"p":90,"v":0},{"s":920,"p":100,"v":0},{"s":920,"p":110,"v":0},{"s":920,"p":120,"v":0},{"s":920,"p":130,"v":0},{"s":920,"p":140,"v":0},{"s":920,"p":150,"v":0},{"s":920,"p":160,"v":0},{"s":920,"p":170,"v":0},{"s":920,"p":180,"v":0},{"s":920,"p":190,"v":0},{"s":920,"p":200,"v":0},{"s":920,"p":210,"v":0},{"s":920,"p":220,"v":0},{"s":920,"p":230,"v":0},{"s":920,"p":240,"v":0},{"s":920,"p":250,"v":0},{"s":920,"p":260,"v":0},{"s":920,"p":270,"v":0},{"s":920,"p":280,"v":0},{"s":920,"p":290,"v":0},{"s":920,"p":300,"v":0},{"s":920,"p":310,"v":0},{"s":920,"p":320,"v":0},{"s":920,"p":330,"v":0},{"s":920,"p":340,"v":0},{"s":920,"p":350,"v":0},{"s":920,"p":360,"v":0},{"s":920,"p":370,"v":0},{"s":920,"p":380,"v":0},{"s":920,"p":390,"v":0},{"s":920,"p":400,"v":0},
{"s":940,"p":1,"v":0},{"s":940,"p":10,"v":0},{"s":940,"p":20,"v":0},{"s":940,"p":30,"v":0},{"s":940,"p":40,"v":0},{"s":940,"p":50,"v":0},{"s":940,"p":60,"v":0},{"s":940,"p":70,"v":0},{"s":940,"p":80,"v":0},{"s":940,"p":90,"v":0},{"s":940,"p":100,"v":0},{"s":940,"p":110,"v":0},{"s":940,"p":120,"v":0},{"s":940,"p":130,"v":0},{"s":940,"p":140,"v":0},{"s":940,"p":150,"v":0},{"s":940,"p":160,"v":0},{"s":940,"p":170,"v":0},{"s":940,"p":180,"v":0},{"s":940,"p":190,"v":0},{"s":940,"p":200,"v":0},{"s":940,"p":210,"v":0},{"s":940,"p":220,"v":0},{"s":940,"p":230,"v":0},{"s":940,"p":240,"v":0},{"s":940,"p":250,"v":0},{"s":940,"p":260,"v":0},{"s":940,"p":270,"v":0},{"s":940,"p":280,"v":0},{"s":940,"p":290,"v":0},{"s":940,"p":300,"v":0},{"s":940,"p":310,"v":0},{"s":940,"p":320,"v":0},{"s":940,"p":330,"v":0},{"s":940,"p":340,"v":0},{"s":940,"p":350,"v":0},{"s":940,"p":360,"v":0},{"s":940,"p":370,"v":0},{"s":940,"p":380,"v":0},{"s":940,"p":390,"v":0},{"s":940,"p":400,"v":0},
{"s":960,"p":1,"v":0},{"s":960,"p":10,"v":0},{"s":960,"p":20,"v":0},{"s":960,"p":30,"v":0},{"s":960,"p":40,"v":0},{"s":960,"p":50,"v":0},{"s":960,"p":60,"v":0},{"s":960,"p":70,"v":0},{"s":960,"p":80,"v":0},{"s":960,"p":90,"v":0},{"s":960,"p":100,"v":0},{"s":960,"p":110,"v":0},{"s":960,"p":120,"v":0},{"s":960,"p":130,"v":0},{"s":960,"p":140,"v":0},{"s":960,"p":150,"v":0},{"s":960,"p":160,"v":0},{"s":960,"p":170,"v":0},{"s":960,"p":180,"v":0},{"s":960,"p":190,"v":0},{"s":960,"p":200,"v":0},{"s":960,"p":210,"v":0},{"s":960,"p":220,"v":0},{"s":960,"p":230,"v":0},{"s":960,"p":240,"v":0},{"s":960,"p":250,"v":0},{"s":960,"p":260,"v":0},{"s":960,"p":270,"v":0},{"s":960,"p":280,"v":0},{"s":960,"p":290,"v":0},{"s":960,"p":300,"v":0},{"s":960,"p":310,"v":0},{"s":960,"p":320,"v":0},{"s":960,"p":330,"v":0},{"s":960,"p":340,"v":0},{"s":960,"p":350,"v":0},{"s":960,"p":360,"v":0},{"s":960,"p":370,"v":0},{"s":960,"p":380,"v":0},{"s":960,"p":390,"v":0},{"s":960,"p":400,"v":0},
{"s":980,"p":1,"v":0},{"s":980,"p":10,"v":0},{"s":980,"p":20,"v":0},{"s":980,"p":30,"v":0},{"s":980,"p":40,"v":0},{"s":980,"p":50,"v":0},{"s":980,"p":60,"v":0},{"s":980,"p":70,"v":0},{"s":980,"p":80,"v":0},{"s":980,"p":90,"v":0},{"s":980,"p":100,"v":0},{"s":980,"p":110,"v":0},{"s":980,"p":120,"v":0},{"s":980,"p":130,"v":0},{"s":980,"p":140,"v":0},{"s":980,"p":150,"v":0},{"s":980,"p":160,"v":0},{"s":980,"p":170,"v":0},{"s":980,"p":180,"v":0},{"s":980,"p":190,"v":0},{"s":980,"p":200,"v":0},{"s":980,"p":210,"v":0},{"s":980,"p":220,"v":0},{"s":980,"p":230,"v":0},{"s":980,"p":240,"v":0},{"s":980,"p":250,"v":0},{"s":980,"p":260,"v":0},{"s":980,"p":270,"v":0},{"s":980,"p":280,"v":0},{"s":980,"p":290,"v":0},{"s":980,"p":300,"v":0},{"s":980,"p":310,"v":0},{"s":980,"p":320,"v":0},{"s":980,"p":330,"v":0},{"s":980,"p":340,"v":0},{"s":980,"p":350,"v":0},{"s":980,"p":360,"v":0},{"s":980,"p":370,"v":0},{"s":980,"p":380,"v":0},{"s":980,"p":390,"v":0},{"s":980,"p":400,"v":0},
{"s":1000,"p":1,"v":0},{"s":1000,"p":10,"v":0},{"s":1000,"p":20,"v":0},{"s":1000,"p":30,"v":0},{"s":1000,"p":40,"v":0},{"s":1000,"p":50,"v":0},{"s":1000,"p":60,"v":0},{"s":1000,"p":70,"v":0},{"s":1000,"p":80,"v":0},{"s":1000,"p":90,"v":0},{"s":1000,"p":100,"v":0},{"s":1000,"p":110,"v":0},{"s":1000,"p":120,"v":0},{"s":1000,"p":130,"v":0},{"s":1000,"p":140,"v":0},{"s":1000,"p":150,"v":0},{"s":1000,"p":160,"v":0},{"s":1000,"p":170,"v":0},{"s":1000,"p":180,"v":0},{"s":1000,"p":190,"v":0},{"s":1000,"p":200,"v":0},{"s":1000,"p":210,"v":0},{"s":1000,"p":220,"v":0},{"s":1000,"p":230,"v":0},{"s":1000,"p":240,"v":0},{"s":1000,"p":250,"v":0},{"s":1000,"p":260,"v":0},{"s":1000,"p":270,"v":0},{"s":1000,"p":280,"v":0},{"s":1000,"p":290,"v":0},{"s":1000,"p":300,"v":0},{"s":1000,"p":310,"v":0},{"s":1000,"p":320,"v":0},{"s":1000,"p":330,"v":0},{"s":1000,"p":340,"v":0},{"s":1000,"p":350,"v":0},{"s":1000,"p":360,"v":0},{"s":1000,"p":370,"v":0},{"s":1000,"p":380,"v":0},{"s":1000,"p":390,"v":0},{"s":1000,"p":400,"v":0}
]},
"vconcat":[
{
"width":993,"height":89,
"view":{"stroke":"#444444","strokeWidth":1.5},
"data":{"name":"series"},
"encoding":{
"x":{"field":"s","type":"nominal","scale":{"type":"band","domain":[400,420,440,460,480,500,520,540,560,580,600,620,640,660,680,700,720,740,760,780,800,820,840,860,880,900,920,940,960,980,1000],"paddingInner":0,"paddingOuter":0.26,"align":0},"axis":null}
},
"layer":[
{"mark":{"type":"rule","strokeWidth":1},
 "encoding":{
  "y":{"datum":8,"type":"quantitative","scale":{"domain":[0,89],"nice":false,"zero":false},"axis":null},
  "y2":{"datum":31},
  "color":{"field":"s","type":"nominal","scale":{"domain":[400,420,440,460,480,500,520,540,560,580,600,620,640,660,680,700,720,740,760,780,800,820,840,860,880,900,920,940,960,980,1000],"range":["#000080","#FF00FF","#FFFF00","#00FFFF","#800080","#800000","#008080","#0000FF","#00CCFF","#CCFFFF","#CCFFCC","#FFFF99","#99CCFF","#FF99CC","#CC99FF","#FFCC99","#3366FF","#33CCCC","#99CC00","#FFCC00","#FF9900","#FF6600","#666699","#969696","#003366","#339966","#003300","#333300","#993300","#993366","#333399"]},"legend":null}
 }},
{"mark":{"type":"point","filled":true,"size":30,"strokeWidth":1,"opacity":1},
 "encoding":{
  "y":{"datum":19.5,"type":"quantitative"},
  "fill":{"field":"s","type":"nominal","scale":{"domain":[400,420,440,460,480,500,520,540,560,580,600,620,640,660,680,700,720,740,760,780,800,820,840,860,880,900,920,940,960,980,1000],"range":["#000080","#FF00FF","#FFFF00","#00FFFF","#800080","#800000","#008080","#0000FF","#00CCFF","#CCFFFF","#CCFFCC","#FFFF99","#99CCFF","#FF99CC","#CC99FF","#FFCC99","#3366FF","#33CCCC","#99CC00","#FFCC00","#FF9900","#FF6600","#666699","#969696","#003366","#339966","#003300","#333300","#993300","#993366","#333399"]},"legend":null},
  "stroke":{"field":"s","type":"nominal","scale":{"domain":[400,420,440,460,480,500,520,540,560,580,600,620,640,660,680,700,720,740,760,780,800,820,840,860,880,900,920,940,960,980,1000],"range":["#000080","#FF00FF","#FFFF00","#00FFFF","#800080","#800000","#008080","#0000FF","#00CCFF","#CCFFFF","#CCFFCC","#FFFF99","#99CCFF","#FF99CC","#CC99FF","#FFCC99","#3366FF","#33CCCC","#99CC00","#FFCC00","#FF9900","#FF6600","#666699","#969696","#003366","#339966","#003300","#333300","#993300","#993366","#333399"]},"legend":null},
  "shape":{"field":"s","type":"nominal","scale":{"domain":[400,420,440,460,480,500,520,540,560,580,600,620,640,660,680,700,720,740,760,780,800,820,840,860,880,900,920,940,960,980,1000],"range":["diamond","square","triangle-left","M-1,-1L1,1M-1,1L1,-1","M-1,-1L1,1M-1,1L1,-1M-1,0L1,0","circle","M-1,0L1,0M0,-1L0,1","M-0.3,-0.6L0.3,-0.6L0.3,0.6L-0.3,0.6Z","M-0.3,-1L0.3,-1L0.3,1L-0.3,1Z","diamond","square","triangle-left","M-1,-1L1,1M-1,1L1,-1","M-1,-1L1,1M-1,1L1,-1M-1,0L1,0","circle","M-1,0L1,0M0,-1L0,1","M-0.3,-0.6L0.3,-0.6L0.3,0.6L-0.3,0.6Z","M-0.3,-1L0.3,-1L0.3,1L-0.3,1Z","diamond","square","triangle-left","M-1,-1L1,1M-1,1L1,-1","M-1,-1L1,1M-1,1L1,-1M-1,0L1,0","circle","M-1,0L1,0M0,-1L0,1","M-0.3,-0.6L0.3,-0.6L0.3,0.6L-0.3,0.6Z","M-0.3,-1L0.3,-1L0.3,1L-0.3,1Z","diamond","square","triangle-left","M-1,-1L1,1M-1,1L1,-1"]},"legend":null}
 }},
{"mark":{"type":"text","angle":270,"align":"center","baseline":"middle","fontSize":13,"color":"#000000","font":"Liberation Sans"},
 "encoding":{
  "y":{"datum":61,"type":"quantitative"},
  "text":{"field":"label","type":"nominal"}
 }}
]
},
{
"width":920,"height":1427,
"layer":[
{"data":{"values":[{}]},
 "mark":{"type":"rule","color":"#888888","strokeWidth":1},
 "encoding":{
  "x":{"datum":110,"type":"quantitative","scale":{"domain":[0,116],"reverse":true,"nice":false,"zero":false},
   "axis":{"values":[0,10,20,30,40,50,60,70,80,90,100,110],"orient":"bottom","labelAngle":270,"labelAlign":"right","labelBaseline":"middle","labelFontSize":13,"labelFont":"Liberation Sans","labelColor":"#000000","labelPadding":3,"tickSize":5,"tickColor":"#333333","domain":false,"grid":true,"gridColor":{"condition":{"test":"datum.value === 110","value":"#888888"},"value":"#222222"},"gridWidth":1,
   "title":"razlika temperature vode i dimnog plina  na izlazu iz kotla / °C","titleAngle":180,"titleBaseline":"bottom","titleFontSize":13.5,"titleFontWeight":"bold","titleFont":"Liberation Sans","titleColor":"#000000","titleX":490,"titlePadding":14}},
  "x2":{"datum":0},
  "y":{"datum":400,"type":"ordinal","scale":{"type":"point","padding":0,"domain":[400,390,380,370,360,350,340,330,320,310,300,290,280,270,260,250,240,230,220,210,200,190,180,170,160,150,140,130,120,110,100,90,80,70,60,50,40,30,20,10,1]},
   "axis":{"orient":"right","labelAngle":270,"labelAlign":"center","labelBaseline":"top","labelFontSize":13,"labelFont":"Liberation Sans","labelColor":"#000000","labelPadding":10,"tickSize":5,"tickColor":"#333333","domainColor":"#333333","domainWidth":1.5,"grid":false,"labelOverlap":false,
   "title":"tlak vode / bar","titleAngle":270,"titleBaseline":"top","titleFontSize":13.5,"titleFontWeight":"bold","titleFont":"Liberation Sans","titleColor":"#000000","titlePadding":8,"titleY":749}}
 }},
{"data":{"values":[{}]},
 "mark":{"type":"rule","color":"#444444","strokeWidth":2},
 "encoding":{"x":{"datum":110,"type":"quantitative"},"x2":{"datum":0},"y":{"datum":1,"type":"ordinal"}}},
{"data":{"name":"titles"},
 "mark":{"type":"text","angle":270,"align":"center","baseline":"bottom","dx":14,"fontSize":16,"fontWeight":"bold","font":"Liberation Sans","color":"#000000"},
 "encoding":{"x":{"field":"xv","type":"quantitative"},"y":{"field":"pv","type":"ordinal"},"text":{"field":"t","type":"nominal"}}},
{"data":{"name":"pts"},
 "mark":{"type":"line","strokeWidth":1},
 "encoding":{
  "x":{"field":"v","type":"quantitative"},
  "y":{"field":"p","type":"ordinal"},
  "order":{"field":"p","type":"quantitative"},
  "color":{"field":"s","type":"nominal","scale":{"domain":[400,420,440,460,480,500,520,540,560,580,600,620,640,660,680,700,720,740,760,780,800,820,840,860,880,900,920,940,960,980,1000],"range":["#000080","#FF00FF","#FFFF00","#00FFFF","#800080","#800000","#008080","#0000FF","#00CCFF","#CCFFFF","#CCFFCC","#FFFF99","#99CCFF","#FF99CC","#CC99FF","#FFCC99","#3366FF","#33CCCC","#99CC00","#FFCC00","#FF9900","#FF6600","#666699","#969696","#003366","#339966","#003300","#333300","#993300","#993366","#333399"]},"legend":null}
 }},
{"data":{"name":"pts"},
 "mark":{"type":"point","filled":true,"size":30,"strokeWidth":1,"opacity":1},
 "encoding":{
  "x":{"field":"v","type":"quantitative"},
  "y":{"field":"p","type":"ordinal"},
  "fill":{"field":"s","type":"nominal","scale":{"domain":[400,420,440,460,480,500,520,540,560,580,600,620,640,660,680,700,720,740,760,780,800,820,840,860,880,900,920,940,960,980,1000],"range":["#000080","#FF00FF","#FFFF00","#00FFFF","#800080","#800000","#008080","#0000FF","#00CCFF","#CCFFFF","#CCFFCC","#FFFF99","#99CCFF","#FF99CC","#CC99FF","#FFCC99","#3366FF","#33CCCC","#99CC00","#FFCC00","#FF9900","#FF6600","#666699","#969696","#003366","#339966","#003300","#333300","#993300","#993366","#333399"]},"legend":null},
  "stroke":{"field":"s","type":"nominal","scale":{"domain":[400,420,440,460,480,500,520,540,560,580,600,620,640,660,680,700,720,740,760,780,800,820,840,860,880,900,920,940,960,980,1000],"range":["#000080","#FF00FF","#FFFF00","#00FFFF","#800080","#800000","#008080","#0000FF","#00CCFF","#CCFFFF","#CCFFCC","#FFFF99","#99CCFF","#FF99CC","#CC99FF","#FFCC99","#3366FF","#33CCCC","#99CC00","#FFCC00","#FF9900","#FF6600","#666699","#969696","#003366","#339966","#003300","#333300","#993300","#993366","#333399"]},"legend":null},
  "shape":{"field":"s","type":"nominal","scale":{"domain":[400,420,440,460,480,500,520,540,560,580,600,620,640,660,680,700,720,740,760,780,800,820,840,860,880,900,920,940,960,980,1000],"range":["diamond","square","triangle-left","M-1,-1L1,1M-1,1L1,-1","M-1,-1L1,1M-1,1L1,-1M-1,0L1,0","circle","M-1,0L1,0M0,-1L0,1","M-0.3,-0.6L0.3,-0.6L0.3,0.6L-0.3,0.6Z","M-0.3,-1L0.3,-1L0.3,1L-0.3,1Z","diamond","square","triangle-left","M-1,-1L1,1M-1,1L1,-1","M-1,-1L1,1M-1,1L1,-1M-1,0L1,0","circle","M-1,0L1,0M0,-1L0,1","M-0.3,-0.6L0.3,-0.6L0.3,0.6L-0.3,0.6Z","M-0.3,-1L0.3,-1L0.3,1L-0.3,1Z","diamond","square","triangle-left","M-1,-1L1,1M-1,1L1,-1","M-1,-1L1,1M-1,1L1,-1M-1,0L1,0","circle","M-1,0L1,0M0,-1L0,1","M-0.3,-0.6L0.3,-0.6L0.3,0.6L-0.3,0.6Z","M-0.3,-1L0.3,-1L0.3,1L-0.3,1Z","diamond","square","triangle-left","M-1,-1L1,1M-1,1L1,-1"]},"legend":null}
 }}
]
}
]
}
